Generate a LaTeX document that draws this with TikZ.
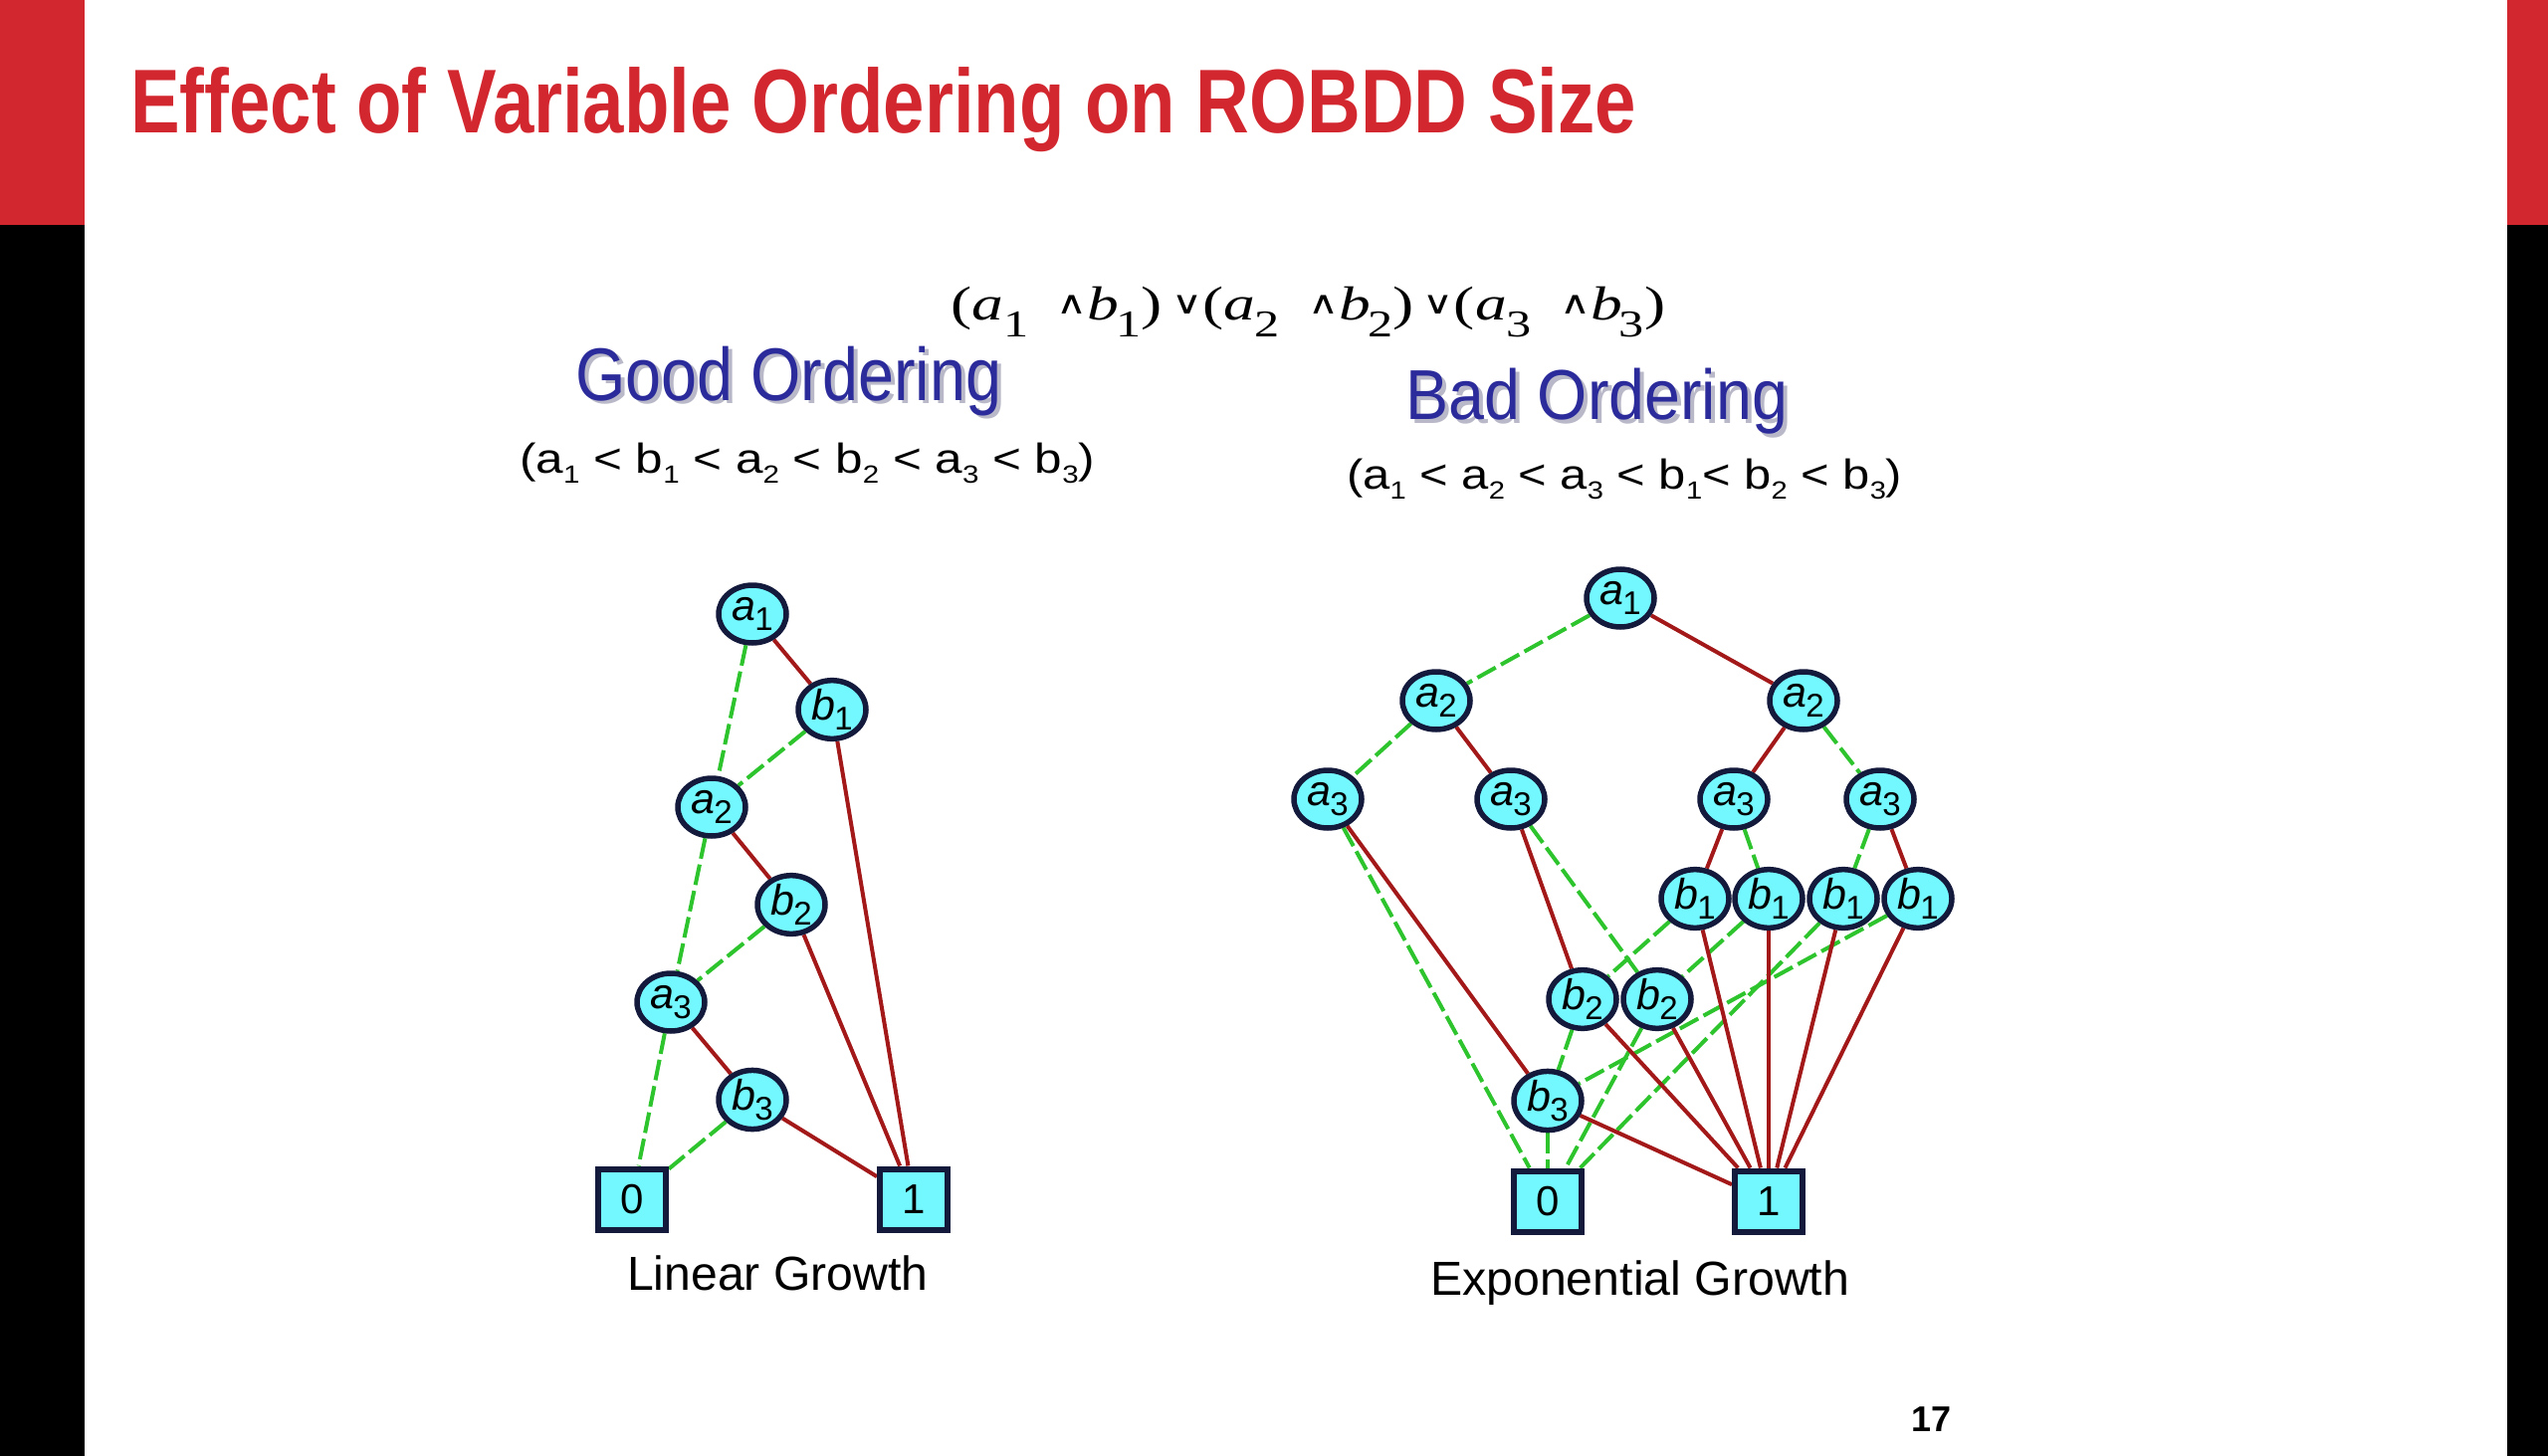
\documentclass[tikz,border=0pt]{standalone}
\usepackage{graphicx}
\usepackage{fontspec}
\setmainfont{Liberation Sans}
\newfontfamily\serifff{Liberation Serif}
\newfontfamily\symff{DejaVu Sans}
\usetikzlibrary{shapes.geometric}
\pgfdeclarelayer{bg}
\pgfdeclarelayer{edges}
\pgfsetlayers{bg,edges,main}

\definecolor{titlered}{HTML}{D3272F}
\definecolor{ordblue}{HTML}{2B2B9B}
\definecolor{shadowgray}{HTML}{B8B8C8}
\definecolor{nodecyan}{HTML}{74F8FF}
\definecolor{nodeedge}{HTML}{141A3C}
\definecolor{hiedge}{HTML}{A31818}
\definecolor{loedge}{HTML}{2EC42E}

\newcommand\fs[1]{\fontsize{#1}{#1}\selectfont}
\newcommand\lsub[1]{\raisebox{-0.24em}{\fontsize{33}{33}\selectfont #1}}
\newcommand\vlab[2]{\textit{#1}\kern-1pt\lsub{#2}}
\newcommand\osub[1]{\raisebox{-0.25em}{\fontsize{25}{25}\selectfont #1}}
\newcommand\fsub[1]{\raisebox{-0.34em}{\fontsize{38}{38}\selectfont #1}}
\newcommand\andsym{\raisebox{0.14em}{{\symff\fs{32}∧}}}
\newcommand\orsym{\raisebox{0.14em}{{\symff\fs{32}∨}}}

\tikzset{
  bdd/.style={ellipse, draw=nodeedge, line width=5.5pt, fill=nodecyan,
    minimum width=68pt, minimum height=58pt, inner sep=0pt, font=\fs{43}},
  term/.style={rectangle, draw=nodeedge, line width=6pt, fill=nodecyan,
    minimum width=68pt, minimum height=61pt, inner sep=0pt, font=\fs{42}},
  hi/.style={draw=hiedge, line width=4pt},
  lo/.style={draw=loedge, line width=4pt, dash pattern=on 21pt off 6pt},
  txt/.style={inner sep=0pt, anchor=base west}
}

\begin{document}
\begin{tikzpicture}[x=1pt,y=-1pt]
\useasboundingbox (0,0) rectangle (2560,1463);
\begin{pgfonlayer}{bg}
\fill[white] (0,0) rectangle (2560,1463);
% side bars
\fill[black] (0,0) rectangle (85,1463);
\fill[titlered] (0,0) rectangle (85,226);
\fill[black] (2519,0) rectangle (2560,1463);
\fill[titlered] (2519,0) rectangle (2560,226);
\end{pgfonlayer}

% title
\node[txt, text=titlered] (title) at (131,134)
  {\resizebox{1513pt}{\height}{\fs{91}\bfseries Effect of Variable Ordering on ROBDD Size}};

% formula
\node[txt] (formula) at (955,322)
  {\resizebox{718pt}{\height}{\serifff\fs{48}(\textit{a}\fsub{1}\hspace{0.45em}\andsym\textit{b}\kern-0.05em\fsub{1})\hspace{0.15em}\orsym(\textit{a}\fsub{2}\hspace{0.45em}\andsym\textit{b}\kern-0.05em\fsub{2})\hspace{0.15em}\orsym(\textit{a}\fsub{3}\hspace{0.45em}\andsym\textit{b}\kern-0.05em\fsub{3})}};

% headings with shadow
\node[txt, text=shadowgray] (goodsh) at (582,406)
  {\resizebox{428pt}{\height}{\fs{75}Good Ordering}};
\node[txt, text=ordblue] (good) at (578,402)
  {\resizebox{428pt}{\height}{\fs{75}Good Ordering}};
\node[txt, text=shadowgray] (badsh) at (1416,425)
  {\resizebox{384pt}{\height}{\fs{71}Bad Ordering}};
\node[txt, text=ordblue] (bad) at (1412,421)
  {\resizebox{384pt}{\height}{\fs{71}Bad Ordering}};

% orderings
\node[txt] (goodord) at (522,475)
  {\resizebox{578pt}{\height}{\fs{42}(a\osub{1} < b\osub{1} < a\osub{2} < b\osub{2} < a\osub{3} < b\osub{3})}};
\node[txt] (badord) at (1353,491)
  {\resizebox{558pt}{\height}{\fs{42}(a\osub{1} < a\osub{2} < a\osub{3} < b\osub{1}< b\osub{2} < b\osub{3})}};

% ---------- left ROBDD ----------
\node[bdd] (La1) at (756,617) {\vlab{a}{1}};
\node[bdd] (Lb1) at (836,713) {\vlab{b}{1}};
\node[bdd] (La2) at (715,811) {\vlab{a}{2}};
\node[bdd] (Lb2) at (795,909) {\vlab{b}{2}};
\node[bdd] (La3) at (674,1007) {\vlab{a}{3}};
\node[bdd] (Lb3) at (756,1105) {\vlab{b}{3}};
\node[term] (L0) at (635,1205) {0};
\node[term] (L1) at (918,1205) {1};

\begin{pgfonlayer}{edges}
\draw[lo] (La1) -- (La2);
\draw[lo] (Lb1) -- (La2);
\draw[lo] (La2) -- (La3);
\draw[lo] (Lb2) -- (La3);
\draw[lo] (La3) -- (L0);
\draw[lo] (Lb3) -- (L0);
\draw[hi] (La1) -- (Lb1);
\draw[hi] (Lb1) -- (L1);
\draw[hi] (La2) -- (Lb2);
\draw[hi] (Lb2) -- (L1);
\draw[hi] (La3) -- (Lb3);
\draw[hi] (Lb3) -- (L1);
\end{pgfonlayer}

\node[txt] (lingrow) at (630,1296) {\resizebox{302pt}{\height}{\fs{48}Linear Growth}};

% ---------- right ROBDD ----------
\node[bdd] (Ra1) at (1628,601) {\vlab{a}{1}};
\node[bdd] (Ra2a) at (1443,704) {\vlab{a}{2}};
\node[bdd] (Ra2b) at (1812,704) {\vlab{a}{2}};
\node[bdd] (Ra3a) at (1334,803) {\vlab{a}{3}};
\node[bdd] (Ra3b) at (1518,803) {\vlab{a}{3}};
\node[bdd] (Ra3c) at (1742,803) {\vlab{a}{3}};
\node[bdd] (Ra3d) at (1889,803) {\vlab{a}{3}};
\node[bdd] (Rb1a) at (1703,903) {\vlab{b}{1}};
\node[bdd] (Rb1b) at (1777,903) {\vlab{b}{1}};
\node[bdd] (Rb1c) at (1852,903) {\vlab{b}{1}};
\node[bdd] (Rb1d) at (1927,903) {\vlab{b}{1}};
\node[bdd] (Rb2a) at (1590,1004) {\vlab{b}{2}};
\node[bdd] (Rb2b) at (1665,1004) {\vlab{b}{2}};
\node[bdd] (Rb3) at (1555,1106) {\vlab{b}{3}};
\node[term] (R0) at (1555,1207) {0};
\node[term] (R1) at (1777,1207) {1};

\begin{pgfonlayer}{edges}
\draw[lo] (Ra1) -- (Ra2a);
\draw[lo] (Ra2a) -- (Ra3a);
\draw[lo] (Ra2b) -- (Ra3d);
\draw[lo] (Ra3a) -- (R0);
\draw[lo] (Ra3b) -- (Rb2b);
\draw[lo] (Ra3c) -- (Rb1b);
\draw[lo] (Ra3d) -- (Rb1c);
\draw[lo] (Rb1a) -- (Rb2a);
\draw[lo] (Rb1b) -- (Rb2b);
\draw[lo] (Rb1c) -- (R0);
\draw[lo] (Rb1d) -- (Rb3);
\draw[lo] (Rb2a) -- (Rb3);
\draw[lo] (Rb2b) -- (R0);
\draw[lo] (Rb3) -- (R0);
\draw[hi] (Ra1) -- (Ra2b);
\draw[hi] (Ra2a) -- (Ra3b);
\draw[hi] (Ra2b) -- (Ra3c);
\draw[hi] (Ra3a) -- (Rb3);
\draw[hi] (Ra3b) -- (Rb2a);
\draw[hi] (Ra3c) -- (Rb1a);
\draw[hi] (Ra3d) -- (Rb1d);
\draw[hi] (Rb1a) -- (R1);
\draw[hi] (Rb1b) -- (R1);
\draw[hi] (Rb1c) -- (R1);
\draw[hi] (Rb1d) -- (R1);
\draw[hi] (Rb2a) -- (R1);
\draw[hi] (Rb2b) -- (R1);
\draw[hi] (Rb3) -- (R1);
\end{pgfonlayer}

\node[txt] (expgrow) at (1437,1301) {\resizebox{421pt}{\height}{\fs{48}Exponential Growth}};

% page number
\node[txt] (pagenum) at (1920,1438) {\fs{36}\bfseries 17};
\end{tikzpicture}
\end{document}
